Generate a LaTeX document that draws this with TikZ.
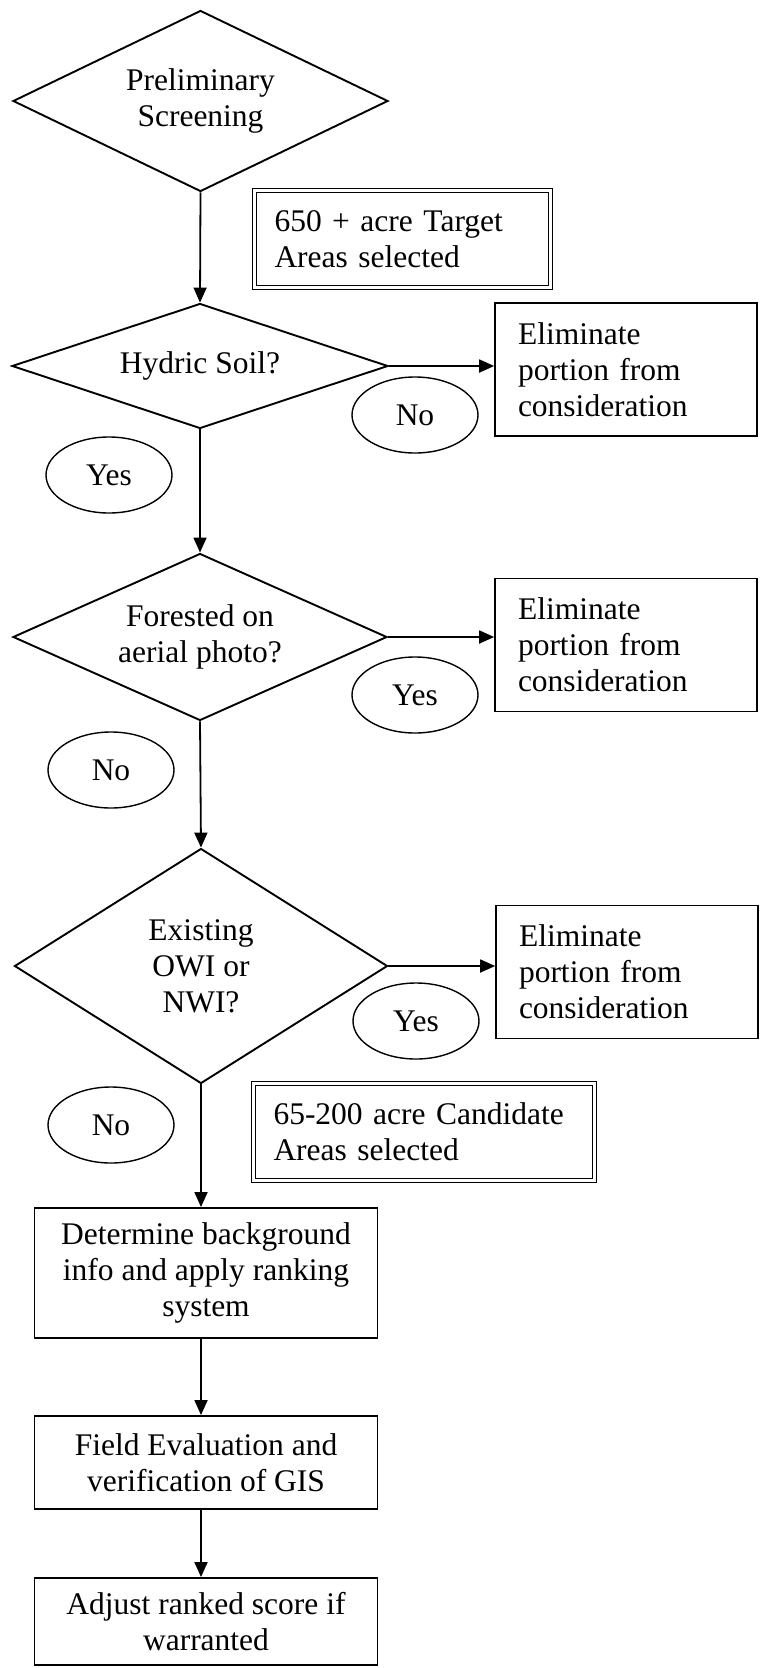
\documentclass[tikz,border=0pt]{standalone}
\usepackage{fontspec}
\setmainfont{Liberation Serif}
\usetikzlibrary{shapes.geometric,arrows.meta,calc}
\begin{document}
\begin{tikzpicture}[x=1pt,y=-1pt,
  every node/.style={font=\fontsize{31.5}{36}\selectfont},
  dia/.style={draw,line width=1.9pt,shape=diamond,aspect=2,inner sep=0pt,align=center},
  lab/.style={draw,line width=1.4pt,ellipse,minimum width=126pt,minimum height=76pt,inner sep=0pt},
  elim/.style={draw,line width=1.7pt,rectangle,text width=216pt,inner xsep=23pt,inner ysep=0pt,minimum height=133pt,align=left},
  dbox/.style={draw,double,line width=1.4pt,double distance=2.5pt,rectangle,align=left,inner xsep=20pt,inner ysep=0pt,minimum height=97pt},
  proc/.style={draw,line width=1.9pt,rectangle,minimum width=343pt,align=center,inner sep=0pt},
  arr/.style={line width=1.8pt,-{Triangle[length=15pt,width=13pt]}}
]
\useasboundingbox (0,0) rectangle (760,1668);

\node[dia,minimum width=375pt,minimum height=181pt] (d1) at (200.5,101) {Preliminary\\Screening};
\node[dbox,text width=256pt] (t1) at (402.5,239) {650 + acre Target\\Areas selected};
\node[dia,minimum width=376pt,minimum height=125pt] (d2) at (200,366) {Hydric Soil?};
\node[elim] (e1) at (626,369.5) {Eliminate\\portion from\\consideration};
\node[lab] (n1) at (415,415) {No};
\node[lab] (y1) at (109,475) {Yes};

\node[dia,minimum width=374pt,minimum height=167pt] (d3) at (200,637) {Forested on\\aerial photo?};
\node[elim] (e2) at (626,645) {Eliminate\\portion from\\consideration};
\node[lab] (y2) at (415,695) {Yes};
\node[lab] (n2) at (111,770) {No};

\node[dia,minimum width=373pt,minimum height=235pt] (d4) at (201,966) {Existing\\OWI or\\NWI?};
\node[elim] (e3) at (627,972) {Eliminate\\portion from\\consideration};
\node[lab] (y3) at (416,1021) {Yes};
\node[lab] (n3) at (111,1125) {No};
\node[dbox,text width=301pt] (t2) at (424,1132) {65-200 acre Candidate\\Areas selected};

\node[proc,minimum height=130pt] (p1) at (206,1273) {Determine background\\info and apply ranking\\system};
\node[proc,minimum height=93pt] (p2) at (206,1462.5) {Field Evaluation and\\verification of GIS};
\node[proc,minimum height=87pt] (p3) at (206,1621.5) {Adjust ranked score if\\warranted};

\draw[arr] (d1.south) -- (d2.north);
\draw[arr] (d2.south) -- (d3.north);
\draw[arr] (d3.south) -- (d4.north);
\draw[arr] (d4.south) -- (d4.south |- p1.north);
\draw[arr] (p1.south -| d4.south) -- (p2.north -| d4.south);
\draw[arr] (p2.south -| d4.south) -- (p3.north -| d4.south);
\draw[arr] (d2.east) -- (d2.east -| e1.west);
\draw[arr] (d3.east) -- (d3.east -| e2.west);
\draw[arr] (d4.east) -- (d4.east -| e3.west);
\end{tikzpicture}
\end{document}
